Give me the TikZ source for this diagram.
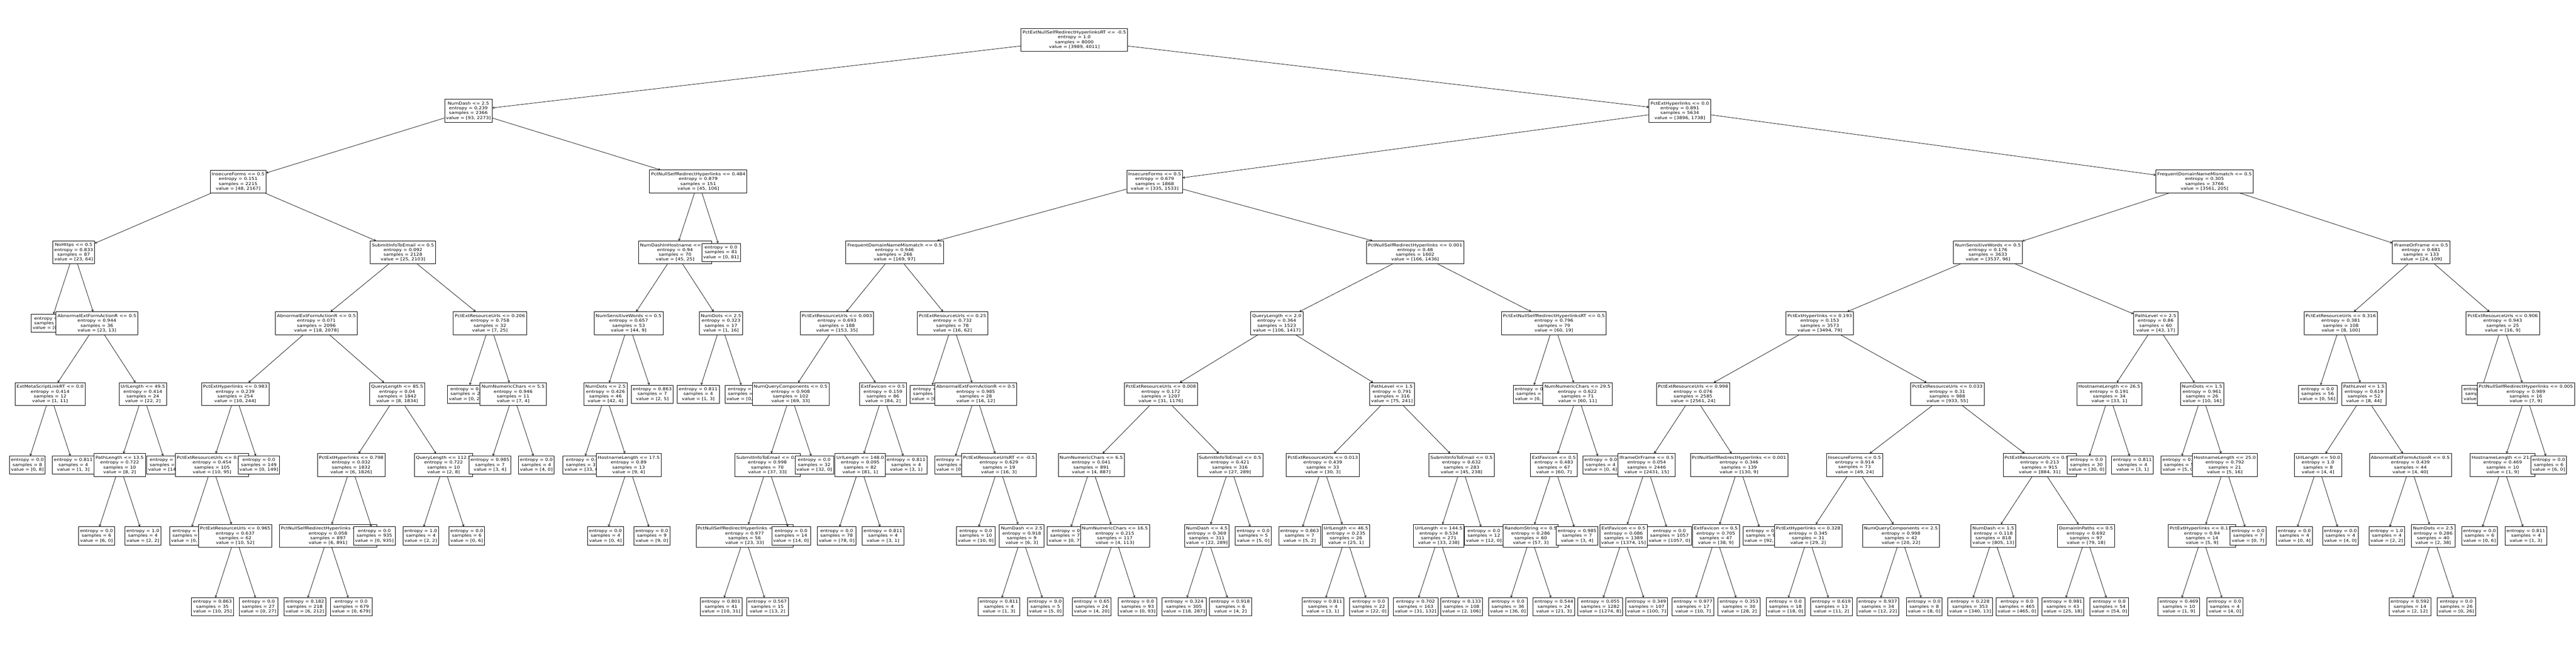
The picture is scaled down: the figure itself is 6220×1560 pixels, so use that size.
\documentclass[tikz,border=0pt]{standalone}
\usepackage{fontspec}
\newfontfamily\treefont[FakeStretch=1.18]{DejaVu Sans}
\usetikzlibrary{arrows.meta}
\tikzset{
  tbox/.style={draw, fill=white, line width=0.9pt, inner xsep=3.7pt, inner ysep=6pt,
    align=center, font=\treefont\fontsize{9.67}{11.6}\selectfont},
  tedge/.style={line width=0.9pt, -{Straight Barb[length=4pt,width=5pt]}}
}
% split node: id, parent, x, level, condition, entropy, samples, value
\newcommand\tsn[8]{\node[tbox] (#1) at (#3,{96+171*#4}) {#5\\entropy = #6\\samples = #7\\value = [#8]};
  \draw[tedge] (#2) -- (#1);}
% leaf node: id, parent, x, level, entropy, samples, value
\newcommand\tlf[7]{\node[tbox] (#1) at (#3,{96+171*#4}) {entropy = #5\\samples = #6\\value = [#7]};
  \draw[tedge] (#2) -- (#1);}
\begin{document}
\begin{tikzpicture}[x=1pt,y=-1pt]
\useasboundingbox (0,0) rectangle (6220,1560);
\node[tbox] (n0) at (2594,96) {PctExtNullSelfRedirectHyperlinksRT <= -0.5\\entropy = 1.0\\samples = 8000\\value = [3989, 4011]};
\tsn{n1}{n0}{1131}{1}{NumDash <= 2.5}{0.239}{2366}{93, 2273}
\tsn{n2}{n1}{575}{2}{InsecureForms <= 0.5}{0.151}{2215}{48, 2167}
\tsn{n3}{n2}{178}{3}{NoHttps <= 0.5}{0.833}{87}{23, 64}
\tlf{n4}{n3}{122}{4}{0.0}{51}{0, 51}
\tsn{n5}{n3}{234}{4}{AbnormalExtFormActionR <= 0.5}{0.944}{36}{23, 13}
\tsn{n6}{n5}{121}{5}{ExtMetaScriptLinkRT <= 0.0}{0.414}{12}{1, 11}
\tlf{n7}{n6}{66}{6}{0.0}{8}{0, 8}
\tlf{n8}{n6}{177}{6}{0.811}{4}{1, 3}
\tsn{n9}{n5}{345}{5}{UrlLength <= 49.5}{0.414}{24}{22, 2}
\tsn{n10}{n9}{289}{6}{PathLength <= 13.5}{0.722}{10}{8, 2}
\tlf{n11}{n10}{233}{7}{0.0}{6}{6, 0}
\tlf{n12}{n10}{345}{7}{1.0}{4}{2, 2}
\tlf{n13}{n9}{401}{6}{0.0}{14}{14, 0}
\tsn{n14}{n2}{973}{3}{SubmitInfoToEmail <= 0.5}{0.092}{2128}{25, 2103}
\tsn{n15}{n14}{764}{4}{AbnormalExtFormActionR <= 0.5}{0.071}{2096}{18, 2078}
\tsn{n16}{n15}{568}{5}{PctExtHyperlinks <= 0.983}{0.239}{254}{10, 244}
\tsn{n17}{n16}{512}{6}{PctExtResourceUrls <= 0.958}{0.454}{105}{10, 95}
\tlf{n18}{n17}{456}{7}{0.0}{43}{0, 43}
\tsn{n19}{n17}{568}{7}{PctExtResourceUrls <= 0.965}{0.637}{62}{10, 52}
\tlf{n20}{n19}{513}{8}{0.863}{35}{10, 25}
\tlf{n21}{n19}{624}{8}{0.0}{27}{0, 27}
\tlf{n22}{n16}{625}{6}{0.0}{149}{0, 149}
\tsn{n23}{n15}{959}{5}{QueryLength <= 85.5}{0.04}{1842}{8, 1834}
\tsn{n24}{n23}{848}{6}{PctExtHyperlinks <= 0.798}{0.032}{1832}{6, 1826}
\tsn{n25}{n24}{792}{7}{PctNullSelfRedirectHyperlinks <= 0.005}{0.058}{897}{6, 891}
\tlf{n26}{n25}{736}{8}{0.182}{218}{6, 212}
\tlf{n27}{n25}{848}{8}{0.0}{679}{0, 679}
\tlf{n28}{n24}{904}{7}{0.0}{935}{0, 935}
\tsn{n29}{n23}{1071}{6}{QueryLength <= 112.5}{0.722}{10}{2, 8}
\tlf{n30}{n29}{1016}{7}{1.0}{4}{2, 2}
\tlf{n31}{n29}{1127}{7}{0.0}{6}{0, 6}
\tsn{n32}{n14}{1183}{4}{PctExtResourceUrls <= 0.206}{0.758}{32}{7, 25}
\tlf{n33}{n32}{1127}{5}{0.0}{21}{0, 21}
\tsn{n34}{n32}{1239}{5}{NumNumericChars <= 5.5}{0.946}{11}{7, 4}
\tlf{n35}{n34}{1183}{6}{0.985}{7}{3, 4}
\tlf{n36}{n34}{1295}{6}{0.0}{4}{4, 0}
\tsn{n37}{n1}{1686}{2}{PctNullSelfRedirectHyperlinks <= 0.484}{0.879}{151}{45, 106}
\tsn{n38}{n37}{1630}{3}{NumDashInHostname <= 0.5}{0.94}{70}{45, 25}
\tsn{n39}{n38}{1518}{4}{NumSensitiveWords <= 0.5}{0.657}{53}{44, 9}
\tsn{n40}{n39}{1462}{5}{NumDots <= 2.5}{0.426}{46}{42, 4}
\tlf{n41}{n40}{1406}{6}{0.0}{33}{33, 0}
\tsn{n42}{n40}{1518}{6}{HostnameLength <= 17.5}{0.89}{13}{9, 4}
\tlf{n43}{n42}{1462}{7}{0.0}{4}{0, 4}
\tlf{n44}{n42}{1574}{7}{0.0}{9}{9, 0}
\tlf{n45}{n39}{1575}{5}{0.863}{7}{2, 5}
\tsn{n46}{n38}{1741}{4}{NumDots <= 2.5}{0.323}{17}{1, 16}
\tlf{n47}{n46}{1686}{5}{0.811}{4}{1, 3}
\tlf{n48}{n46}{1797}{5}{0.0}{13}{0, 13}
\tlf{n49}{n37}{1741}{3}{0.0}{81}{0, 81}
\tsn{n50}{n0}{4056}{1}{PctExtHyperlinks <= 0.0}{0.891}{5634}{3896, 1738}
\tsn{n51}{n50}{2788}{2}{InsecureForms <= 0.5}{0.679}{1868}{335, 1533}
\tsn{n52}{n51}{2160}{3}{FrequentDomainNameMismatch <= 0.5}{0.946}{266}{169, 97}
\tsn{n53}{n52}{2021}{4}{PctExtResourceUrls <= 0.003}{0.693}{188}{153, 35}
\tsn{n54}{n53}{1909}{5}{NumQueryComponents <= 0.5}{0.908}{102}{69, 33}
\tsn{n55}{n54}{1853}{6}{SubmitInfoToEmail <= 0.5}{0.998}{70}{37, 33}
\tsn{n56}{n55}{1798}{7}{PctNullSelfRedirectHyperlinks <= 0.149}{0.977}{56}{23, 33}
\tlf{n57}{n56}{1741}{8}{0.801}{41}{10, 31}
\tlf{n58}{n56}{1853}{8}{0.567}{15}{13, 2}
\tlf{n59}{n55}{1910}{7}{0.0}{14}{14, 0}
\tlf{n60}{n54}{1966}{6}{0.0}{32}{32, 0}
\tsn{n61}{n53}{2132}{5}{ExtFavicon <= 0.5}{0.159}{86}{84, 2}
\tsn{n62}{n61}{2077}{6}{UrlLength <= 148.0}{0.095}{82}{81, 1}
\tlf{n63}{n62}{2020}{7}{0.0}{78}{78, 0}
\tlf{n64}{n62}{2132}{7}{0.811}{4}{3, 1}
\tlf{n65}{n61}{2188}{6}{0.811}{4}{3, 1}
\tsn{n66}{n52}{2300}{4}{PctExtResourceUrls <= 0.25}{0.732}{78}{16, 62}
\tlf{n67}{n66}{2244}{5}{0.0}{50}{0, 50}
\tsn{n68}{n66}{2356}{5}{AbnormalExtFormActionR <= 0.5}{0.985}{28}{16, 12}
\tlf{n69}{n68}{2300}{6}{0.0}{9}{0, 9}
\tsn{n70}{n68}{2412}{6}{PctExtResourceUrlsRT <= -0.5}{0.629}{19}{16, 3}
\tlf{n71}{n70}{2356}{7}{0.0}{10}{10, 0}
\tsn{n72}{n70}{2467}{7}{NumDash <= 2.5}{0.918}{9}{6, 3}
\tlf{n73}{n72}{2412}{8}{0.811}{4}{1, 3}
\tlf{n74}{n72}{2524}{8}{0.0}{5}{5, 0}
\tsn{n75}{n51}{3417}{3}{PctNullSelfRedirectHyperlinks <= 0.001}{0.48}{1602}{166, 1436}
\tsn{n76}{n75}{3083}{4}{QueryLength <= 2.0}{0.364}{1523}{106, 1417}
\tsn{n77}{n76}{2803}{5}{PctExtResourceUrls <= 0.008}{0.172}{1207}{31, 1176}
\tsn{n78}{n77}{2635}{6}{NumNumericChars <= 6.5}{0.041}{891}{4, 887}
\tlf{n79}{n78}{2579}{7}{0.0}{774}{0, 774}
\tsn{n80}{n78}{2692}{7}{NumNumericChars <= 16.5}{0.215}{117}{4, 113}
\tlf{n81}{n80}{2636}{8}{0.65}{24}{4, 20}
\tlf{n82}{n80}{2747}{8}{0.0}{93}{0, 93}
\tsn{n83}{n77}{2970}{6}{SubmitInfoToEmail <= 0.5}{0.421}{316}{27, 289}
\tsn{n84}{n83}{2914}{7}{NumDash <= 4.5}{0.369}{311}{22, 289}
\tlf{n85}{n84}{2859}{8}{0.324}{305}{18, 287}
\tlf{n86}{n84}{2971}{8}{0.918}{6}{4, 2}
\tlf{n87}{n83}{3026}{7}{0.0}{5}{5, 0}
\tsn{n88}{n76}{3361}{5}{PathLevel <= 1.5}{0.791}{316}{75, 241}
\tsn{n89}{n88}{3194}{6}{PctExtResourceUrls <= 0.013}{0.439}{33}{30, 3}
\tlf{n90}{n89}{3138}{7}{0.863}{7}{5, 2}
\tsn{n91}{n89}{3250}{7}{UrlLength <= 46.5}{0.235}{26}{25, 1}
\tlf{n92}{n91}{3194}{8}{0.811}{4}{3, 1}
\tlf{n93}{n91}{3305}{8}{0.0}{22}{22, 0}
\tsn{n94}{n88}{3529}{6}{SubmitInfoToEmail <= 0.5}{0.632}{283}{45, 238}
\tsn{n95}{n94}{3474}{7}{UrlLength <= 144.5}{0.534}{271}{33, 238}
\tlf{n96}{n95}{3418}{8}{0.702}{163}{31, 132}
\tlf{n97}{n95}{3529}{8}{0.133}{108}{2, 106}
\tlf{n98}{n94}{3583}{7}{0.0}{12}{12, 0}
\tsn{n99}{n75}{3752}{4}{PctExtNullSelfRedirectHyperlinksRT <= 0.5}{0.796}{79}{60, 19}
\tlf{n100}{n99}{3697}{5}{0.0}{8}{0, 8}
\tsn{n101}{n99}{3809}{5}{NumNumericChars <= 29.5}{0.622}{71}{60, 11}
\tsn{n102}{n101}{3752}{6}{ExtFavicon <= 0.5}{0.483}{67}{60, 7}
\tsn{n103}{n102}{3696}{7}{RandomString <= 0.5}{0.286}{60}{57, 3}
\tlf{n104}{n103}{3641}{8}{0.0}{36}{36, 0}
\tlf{n105}{n103}{3752}{8}{0.544}{24}{21, 3}
\tlf{n106}{n102}{3808}{7}{0.985}{7}{3, 4}
\tlf{n107}{n101}{3865}{6}{0.0}{4}{0, 4}
\tsn{n108}{n50}{5323}{2}{FrequentDomainNameMismatch <= 0.5}{0.305}{3766}{3561, 205}
\tsn{n109}{n108}{4800}{3}{NumSensitiveWords <= 0.5}{0.176}{3633}{3537, 96}
\tsn{n110}{n109}{4394}{4}{PctExtHyperlinks <= 0.193}{0.153}{3573}{3494, 79}
\tsn{n111}{n110}{4088}{5}{PctExtResourceUrls <= 0.998}{0.076}{2585}{2561, 24}
\tsn{n112}{n111}{3976}{6}{IframeOrFrame <= 0.5}{0.054}{2446}{2431, 15}
\tsn{n113}{n112}{3920}{7}{ExtFavicon <= 0.5}{0.086}{1389}{1374, 15}
\tlf{n114}{n113}{3864}{8}{0.055}{1282}{1274, 8}
\tlf{n115}{n113}{3976}{8}{0.349}{107}{100, 7}
\tlf{n116}{n112}{4031}{7}{0.0}{1057}{1057, 0}
\tsn{n117}{n111}{4199}{6}{PctNullSelfRedirectHyperlinks <= 0.001}{0.346}{139}{130, 9}
\tsn{n118}{n117}{4143}{7}{ExtFavicon <= 0.5}{0.705}{47}{38, 9}
\tlf{n119}{n118}{4088}{8}{0.977}{17}{10, 7}
\tlf{n120}{n118}{4199}{8}{0.353}{30}{28, 2}
\tlf{n121}{n117}{4255}{7}{0.0}{92}{92, 0}
\tsn{n122}{n110}{4702}{5}{PctExtResourceUrls <= 0.033}{0.31}{988}{933, 55}
\tsn{n123}{n122}{4478}{6}{InsecureForms <= 0.5}{0.914}{73}{49, 24}
\tsn{n124}{n123}{4366}{7}{PctExtHyperlinks <= 0.328}{0.345}{31}{29, 2}
\tlf{n125}{n124}{4311}{8}{0.0}{18}{18, 0}
\tlf{n126}{n124}{4422}{8}{0.619}{13}{11, 2}
\tsn{n127}{n123}{4590}{7}{NumQueryComponents <= 2.5}{0.998}{42}{20, 22}
\tlf{n128}{n127}{4534}{8}{0.937}{34}{12, 22}
\tlf{n129}{n127}{4646}{8}{0.0}{8}{8, 0}
\tsn{n130}{n122}{4925}{6}{PctExtResourceUrls <= 0.992}{0.213}{915}{884, 31}
\tsn{n131}{n130}{4813}{7}{NumDash <= 1.5}{0.118}{818}{805, 13}
\tlf{n132}{n131}{4757}{8}{0.228}{353}{340, 13}
\tlf{n133}{n131}{4870}{8}{0.0}{465}{465, 0}
\tsn{n134}{n130}{5037}{7}{DomainInPaths <= 0.5}{0.692}{97}{79, 18}
\tlf{n135}{n134}{4981}{8}{0.981}{43}{25, 18}
\tlf{n136}{n134}{5093}{8}{0.0}{54}{54, 0}
\tsn{n137}{n109}{5205}{4}{PathLevel <= 2.5}{0.86}{60}{43, 17}
\tsn{n138}{n137}{5093}{5}{HostnameLength <= 26.5}{0.191}{34}{33, 1}
\tlf{n139}{n138}{5038}{6}{0.0}{30}{30, 0}
\tlf{n140}{n138}{5149}{6}{0.811}{4}{3, 1}
\tsn{n141}{n137}{5317}{5}{NumDots <= 1.5}{0.961}{26}{10, 16}
\tlf{n142}{n141}{5261}{6}{0.0}{5}{5, 0}
\tsn{n143}{n141}{5372}{6}{HostnameLength <= 25.0}{0.792}{21}{5, 16}
\tsn{n144}{n143}{5317}{7}{PctExtHyperlinks <= 0.115}{0.94}{14}{5, 9}
\tlf{n145}{n144}{5261}{8}{0.469}{10}{1, 9}
\tlf{n146}{n144}{5372}{8}{0.0}{4}{4, 0}
\tlf{n147}{n143}{5428}{7}{0.0}{7}{0, 7}
\tsn{n148}{n108}{5846}{3}{IframeOrFrame <= 0.5}{0.681}{133}{24, 109}
\tsn{n149}{n148}{5652}{4}{PctExtResourceUrls <= 0.316}{0.381}{108}{8, 100}
\tlf{n150}{n149}{5596}{5}{0.0}{56}{0, 56}
\tsn{n151}{n149}{5708}{5}{PathLevel <= 1.5}{0.619}{52}{8, 44}
\tsn{n152}{n151}{5597}{6}{UrlLength <= 50.0}{1.0}{8}{4, 4}
\tlf{n153}{n152}{5540}{7}{0.0}{4}{0, 4}
\tlf{n154}{n152}{5651}{7}{0.0}{4}{4, 0}
\tsn{n155}{n151}{5820}{6}{AbnormalExtFormActionR <= 0.5}{0.439}{44}{4, 40}
\tlf{n156}{n155}{5763}{7}{1.0}{4}{2, 2}
\tsn{n157}{n155}{5875}{7}{NumDots <= 2.5}{0.286}{40}{2, 38}
\tlf{n158}{n157}{5819}{8}{0.592}{14}{2, 12}
\tlf{n159}{n157}{5931}{8}{0.0}{26}{0, 26}
\tsn{n160}{n148}{6043}{4}{PctExtResourceUrls <= 0.906}{0.943}{25}{16, 9}
\tlf{n161}{n160}{5988}{5}{0.0}{9}{9, 0}
\tsn{n162}{n160}{6099}{5}{PctNullSelfRedirectHyperlinks <= 0.005}{0.989}{16}{7, 9}
\tsn{n163}{n162}{6043}{6}{HostnameLength <= 21.5}{0.469}{10}{1, 9}
\tlf{n164}{n163}{5987}{7}{0.0}{6}{0, 6}
\tlf{n165}{n163}{6099}{7}{0.811}{4}{1, 3}
\tlf{n166}{n162}{6154}{6}{0.0}{6}{6, 0}
\end{tikzpicture}
\end{document}
